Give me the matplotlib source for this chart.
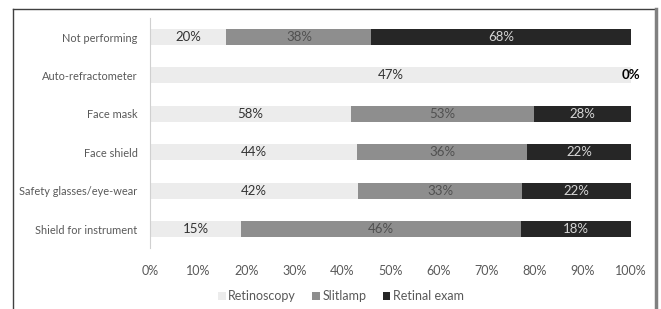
import matplotlib
matplotlib.use("Agg")
import matplotlib.pyplot as plt
from matplotlib.lines import Line2D
import numpy as np

categories = ["Not performing", "Auto-refractometer", "Face mask", "Face shield",
              "Safety glasses/eye-wear", "Shield for instrument"]
retinoscopy = [20, 47, 58, 44, 42, 15]
slitlamp = [38, 0, 53, 36, 33, 46]
retinal = [68, 0, 28, 22, 22, 18]
series_names = ["Retinoscopy", "Slitlamp", "Retinal exam"]
xticks = [0, 10, 20, 30, 40, 50, 60, 70, 80, 90, 100]

colors = ["#ececec", "#8e8e8e", "#262626"]
label_colors = ["#333333", "#505050", "#d6d6d6"]

plt.rcParams['font.family'] = ['Lato', 'DejaVu Sans']

fig = plt.figure(figsize=(6.61, 3.09), dpi=100)
ax = fig.add_axes([150/661, 1-248.2/309, 481/661, (248.2-17.8)/309])

data = np.array([retinoscopy, slitlamp, retinal], dtype=float)
totals = data.sum(axis=0)
pct = data / totals * 100
y = np.arange(len(categories))
left = np.zeros(len(categories))
for i, name in enumerate(series_names):
    ax.barh(y, pct[i], left=left, height=0.42, color=colors[i], label=name)
    for j in range(len(categories)):
        val = data[i, j]
        cx = left[j] + pct[i, j] / 2
        if val > 0:
            ax.text(cx, y[j], f"{int(val)}%", ha="center", va="center",
                    fontsize=9.5, color=label_colors[i])
        elif i == 2:
            ax.text(left[j] + pct[i, j], y[j], f"{int(val)}%", ha="center", va="center",
                    fontsize=9.5, color="black", fontweight="bold")
    left += pct[i]

ax.set_xlim(0, 100)
ax.set_ylim(len(categories) - 0.5, -0.5)
ax.set_yticks(y)
ax.set_yticklabels(categories)
ax.set_xticks(xticks)
ax.set_xticklabels([f"{t}%" for t in xticks])
ax.tick_params(axis="both", length=0, colors="#595959")
ax.tick_params(axis="y", labelsize=7.9, pad=9)
ax.tick_params(axis="x", labelsize=9, pad=12)
for s in ["top", "right", "bottom"]:
    ax.spines[s].set_visible(False)
ax.spines["left"].set_color("#d0d0d0")

handles, labels = ax.get_legend_handles_labels()
fig.legend(handles, labels, loc="center", bbox_to_anchor=(341/661, 1-296/309), ncol=3,
           frameon=False, fontsize=9, handlelength=0.6, handleheight=0.6,
           handletextpad=0.2, columnspacing=1.3, labelcolor="#595959")

# outer frame
fig.add_artist(Line2D([13/661, 655/661], [1-9/309, 1-9/309], transform=fig.transFigure,
                      color="#404040", lw=1))
fig.add_artist(Line2D([13/661, 13/661], [0, 1-9/309], transform=fig.transFigure,
                      color="#404040", lw=1))
fig.add_artist(Line2D([656/661, 656/661], [0, 1-9/309], transform=fig.transFigure,
                      color="#808080", lw=2.5))

fig.savefig("out.png", dpi=100)
